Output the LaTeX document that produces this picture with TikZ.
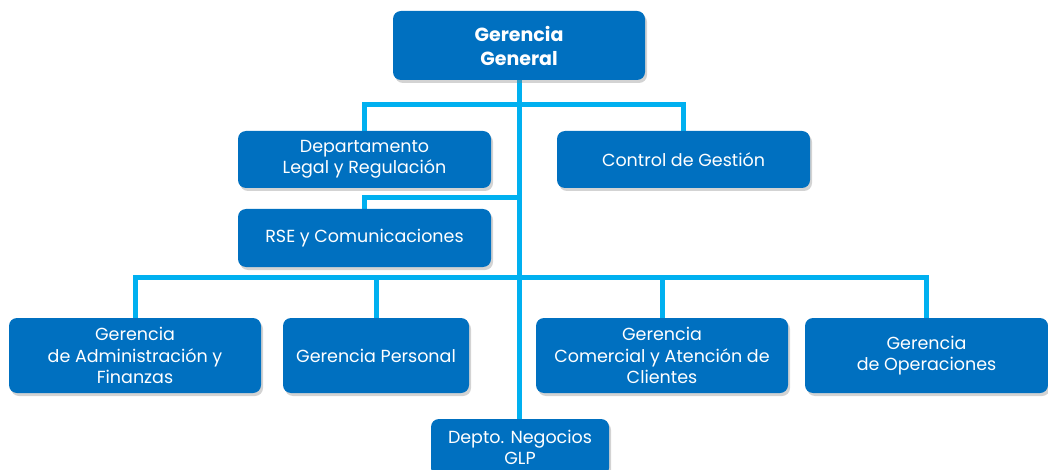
\documentclass[tikz,border=0pt]{standalone}
\usepackage{fontspec}
\setmainfont{Poppins}
\usetikzlibrary{shadows,backgrounds}
\definecolor{boxblue}{HTML}{0070C0}
\definecolor{linkcyan}{HTML}{00B0F0}
\tikzset{
  unit/.style={draw=none, fill=boxblue, text=white, rounded corners=8pt,
    align=center, inner sep=0pt, font=\fontsize{17.5}{21.5}\selectfont,
    drop shadow={opacity=0.35, shadow xshift=2pt, shadow yshift=-3pt}},
  link/.style={draw=linkcyan, line width=5pt}
}
\begin{document}
\begin{tikzpicture}[x=1pt, y=-1pt]
      \useasboundingbox (0,0) rectangle (1048,470);
      \draw
        (519,45.5) node[unit, minimum width=252pt, minimum height=69pt,
          font=\fontsize{19}{24}\selectfont\bfseries] (gg){Gerencia\\General}
        (364.5,159.5) node[unit, minimum width=253pt, minimum height=57pt] (legal){Departamento\\Legal y Regulación}
        (683.5,159.5) node[unit, minimum width=253pt, minimum height=57pt] (ctrl){Control de Gestión}
        (364.5,238) node[unit, minimum width=253pt, minimum height=58pt] (rse){RSE y Comunicaciones}
        (135,355.5) node[unit, minimum width=252pt, minimum height=75pt] (admin){Gerencia\\de Administración y\\Finanzas}
        (376,355.5) node[unit, minimum width=186pt, minimum height=75pt] (pers){Gerencia Personal}
        (662,355.5) node[unit, minimum width=252pt, minimum height=75pt] (comer){Gerencia\\Comercial y Atención de\\Clientes}
        (926.5,355.5) node[unit, minimum width=243pt, minimum height=75pt] (oper){Gerencia\\de Operaciones}
        (520,447.5) node[unit, minimum width=178pt, minimum height=57pt] (glp){Depto. Negocios\\GLP};
      \coordinate (top) at (519,105);
      \coordinate (mid) at (519,198);
      \coordinate (low) at (519,277);
      % links go behind the boxes
      \begin{scope}[on background layer]
        \draw[link] (gg.south) -- (glp.north -| gg.south);
        \draw[link] (legal.north) |- (top) -| (ctrl.north);
        \draw[link] (rse.north) |- (mid);
        \draw[link] (admin.north) |- (low) -| (oper.north);
        \draw[link] (pers.north) |- (low);
        \draw[link] (comer.north) |- (low);
      \end{scope}
    \end{tikzpicture}
\end{document}
